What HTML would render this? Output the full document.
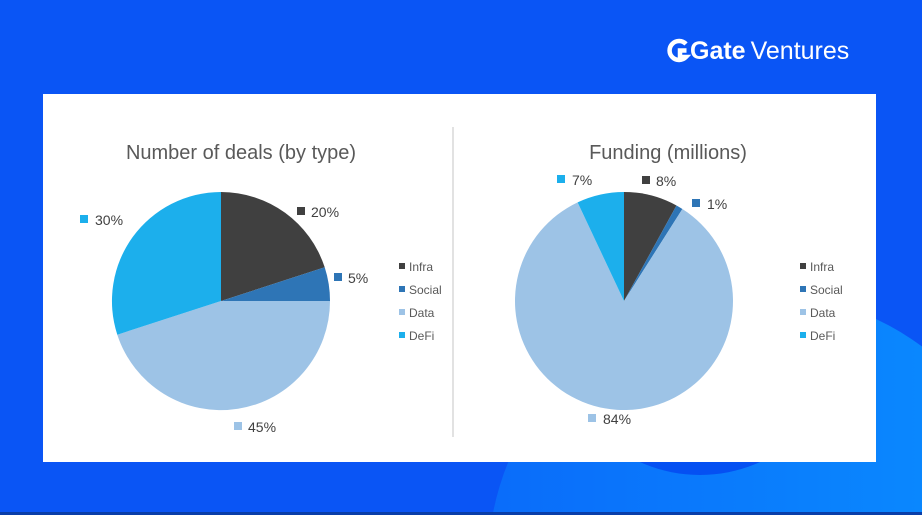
<!DOCTYPE html>
<html><head><style>
html,body{margin:0;width:922px;height:515px;overflow:hidden}
body{background:#0a55f5;font-family:"Liberation Sans",sans-serif;position:relative}
.logo{position:absolute;left:690px;top:37px;color:#fff;font-size:25px;white-space:nowrap;line-height:28px}
.logo b{font-weight:bold;margin-right:5px}
</style></head><body>
<svg width="922" height="515" style="position:absolute;left:0;top:0">
<defs><linearGradient id="g" x1="0" x2="1"><stop offset="0" stop-color="#0a6cfa"/><stop offset="1" stop-color="#0a8eff"/></linearGradient></defs>
<circle cx="760" cy="565" r="272" fill="url(#g)"/>
<circle cx="700" cy="330" r="145" fill="#0550f2"/>
<rect x="0" y="512" width="922" height="3" fill="#0a3ea8"/>
<rect x="43" y="94" width="833" height="368" fill="#fff"/>
<!-- logo icon -->
<path d="M686,44 A9.5,9.5 0 1 0 686,57 L680,57 L680,50.5 L686.5,50.5" fill="none" stroke="#fff" stroke-width="4.5"/>
<line x1="453" y1="127" x2="453" y2="437" stroke="#d9d9d9" stroke-width="1.5"/>
<g font-family="Liberation Sans,sans-serif">
<text x="241" y="159" font-size="20" fill="#595959" text-anchor="middle">Number of deals (by type)</text>
<text x="668" y="159" font-size="20" fill="#595959" text-anchor="middle">Funding (millions)</text>
<path d="M221,301 L221,192 A109,109 0 0 1 324.7,267.3 Z" fill="#404040"/>
<path d="M221,301 L324.7,267.3 A109,109 0 0 1 330,301 Z" fill="#2e75b6"/>
<path d="M221,301 L330,301 A109,109 0 0 1 117.3,334.7 Z" fill="#9dc3e6"/>
<path d="M221,301 L117.3,334.7 A109,109 0 0 1 221,192 Z" fill="#1cafec"/>
<path d="M624,301 L624,192 A109,109 0 0 1 676.5,205.5 Z" fill="#404040"/>
<path d="M624,301 L676.5,205.5 A109,109 0 0 1 682.4,209 Z" fill="#2e75b6"/>
<path d="M624,301 L682.4,209 A109,109 0 1 1 577.6,202.4 Z" fill="#9dc3e6"/>
<path d="M624,301 L577.6,202.4 A109,109 0 0 1 624,192 Z" fill="#1cafec"/>
<g font-size="14" fill="#404040">
<rect x="297" y="207" width="8" height="8" fill="#404040"/><text x="311" y="217">20%</text>
<rect x="334" y="273" width="8" height="8" fill="#2e75b6"/><text x="348" y="283">5%</text>
<rect x="234" y="422" width="8" height="8" fill="#9dc3e6"/><text x="248" y="432">45%</text>
<rect x="80" y="215" width="8" height="8" fill="#1cafec"/><text x="95" y="225">30%</text>
<rect x="642" y="176" width="8" height="8" fill="#404040"/><text x="656" y="186">8%</text>
<rect x="692" y="199" width="8" height="8" fill="#2e75b6"/><text x="707" y="209">1%</text>
<rect x="588" y="414" width="8" height="8" fill="#9dc3e6"/><text x="603" y="424">84%</text>
<rect x="557" y="175" width="8" height="8" fill="#1cafec"/><text x="572" y="185">7%</text>
</g>
<g font-size="12" fill="#595959">
<rect x="399" y="263" width="6" height="6" fill="#404040"/><text x="409" y="271">Infra</text>
<rect x="399" y="286" width="6" height="6" fill="#2e75b6"/><text x="409" y="294">Social</text>
<rect x="399" y="309" width="6" height="6" fill="#9dc3e6"/><text x="409" y="317">Data</text>
<rect x="399" y="332" width="6" height="6" fill="#1cafec"/><text x="409" y="340">DeFi</text>
<rect x="800" y="263" width="6" height="6" fill="#404040"/><text x="810" y="271">Infra</text>
<rect x="800" y="286" width="6" height="6" fill="#2e75b6"/><text x="810" y="294">Social</text>
<rect x="800" y="309" width="6" height="6" fill="#9dc3e6"/><text x="810" y="317">Data</text>
<rect x="800" y="332" width="6" height="6" fill="#1cafec"/><text x="810" y="340">DeFi</text>
</g>
</g>
</svg>
<div class="logo"><b>Gate</b>Ventures</div>
</body></html>
